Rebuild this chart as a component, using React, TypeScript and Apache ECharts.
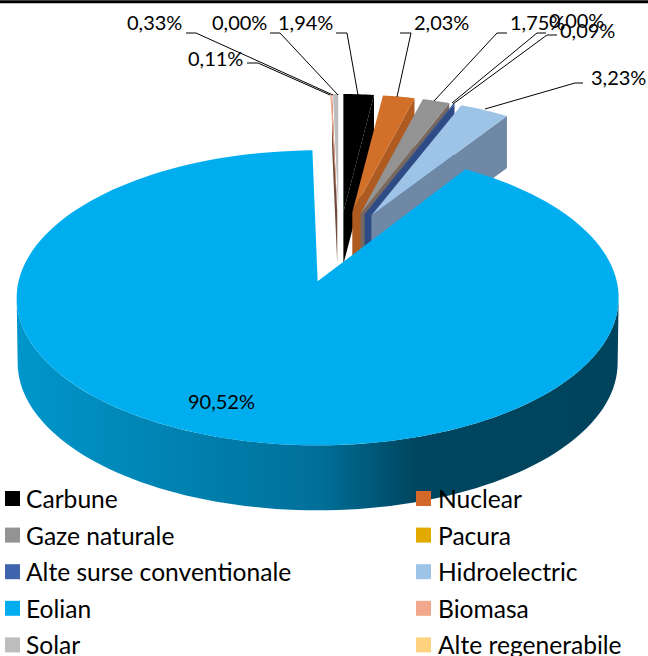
import React, { useEffect, useRef } from "react";
import * as echarts from "echarts";

const categories = ["Carbune", "Nuclear", "Gaze naturale", "Pacura", "Alte surse conventionale", "Hidroelectric", "Eolian", "Biomasa", "Solar", "Alte regenerabile"];
const values = [1.94, 2.03, 1.75, 0.0, 0.09, 3.23, 90.52, 0.11, 0.33, 0.0];
const legendColors = ["#000000", "#D2692A", "#939393", "#E2A900", "#3F63AC", "#9DC3E6", "#00AEEF", "#F1A88C", "#BDBDBD", "#FFD280"];
const faceColors = ["#000000", "#D2702A", "#939393", "#E2A900", "#2F5597", "#9DC3E6", "#00AEEF", "#F1A88C", "#BDBDBD", "#FFD280"];
const wallColors = ["#000000", "#AF5A20", "#77695F", "#A87E00", "#2E4B85", "#6F88A6", "#0090C4", "#6E4A3A", "#8A8A8A", "#BFA060"];
const leftLegend = ["Carbune", "Gaze naturale", "Alte surse conventionale", "Eolian", "Solar"];
const rightLegend = ["Nuclear", "Pacura", "Hidroelectric", "Biomasa", "Alte regenerabile"];
const drawOrder = [7, 9, 8, 0, 1, 2, 3, 4, 5, 6];
const labelText = (v: number) => v.toFixed(2).replace(".", ",") + "%";

// label placement: [category index, text x, text y, leader points]
const labelLayout: [number, number, number, number[][] | null][] = [
  [8, 127, 22, [[186, 33], [196, 33], [333, 95]]],
  [7, 188, 58, [[247, 63], [258, 63], [330, 95]]],
  [9, 212, 22, [[270, 33], [280, 33], [338, 95]]],
  [0, 278, 22, [[336, 33], [347, 33], [358, 95]]],
  [1, 414, 22, [[400, 33], [411, 33], [397, 97]]],
  [2, 510, 22, [[507, 33], [497, 33], [434, 101]]],
  [3, 549, 20, [[546, 33], [537, 33], [452, 103]]],
  [4, 560, 30, [[557, 35], [547, 35], [453, 104]]],
  [5, 591, 77, [[583, 83], [575, 83], [485, 109]]],
  [6, 188, 401, null],
];

const FONT = "Lato";
const rad = (d: number) => (d * Math.PI) / 180;
const PIE = { cx: 339, cy: 245, dx: 72, dy: 33, rx: 252, ry: 118, depth: 52 };
const MAIN = { dx: 80, dy: 37.7, ecy: 16.5, rx: 301, ry: 147.5, depth: 65, phiStart: 29.4, phiEnd: 359 };

function arc(cx: number, cy: number, rx: number, ry: number, a: number, b: number, n = 8) {
  const pts: number[][] = [];
  const steps = Math.max(1, Math.ceil((Math.abs(b - a) / 360) * 180), n);
  for (let i = 0; i <= steps; i++) {
    const t = rad(a + ((b - a) * i) / steps);
    pts.push([cx + rx * Math.sin(t), cy - ry * Math.cos(t)]);
  }
  return pts;
}

function renderSlice(params: any, api: any) {
  const v = api.value(0);
  const s = api.value(1);
  const e = api.value(2);
  const cat = drawOrder[params.seriesIndex];
  if (v <= 0) return { type: "group", children: [] };
  const mid = (s + e) / 2;
  if (cat === 6) {
    const ax = PIE.cx + MAIN.dx * Math.sin(rad(mid));
    const ay = PIE.cy - MAIN.dy * Math.cos(rad(mid));
    const ecy = ay + MAIN.ecy;
    const upper = arc(ax, ecy, MAIN.rx, MAIN.ry, 90, 270);
    const lower = arc(ax, ecy + MAIN.depth, MAIN.rx - 1, MAIN.ry, 270, 90);
    const face = [[ax, ay], ...arc(ax, ecy, MAIN.rx, MAIN.ry, MAIN.phiStart, MAIN.phiEnd)];
    return {
      type: "group",
      children: [
        {
          type: "polygon",
          shape: { points: [...upper, ...lower] },
          style: {
            fill: new echarts.graphic.LinearGradient(0, 0, 1, 0, [
              { offset: 0, color: "#0096CB" },
              { offset: 0.5, color: "#00709A" },
              { offset: 0.66, color: "#004660" },
              { offset: 1, color: "#00435C" },
            ]),
          },
        },
        { type: "polygon", shape: { points: face }, style: { fill: faceColors[cat] } },
      ],
    };
  }
  const ax = PIE.cx + PIE.dx * Math.sin(rad(mid));
  const ay = PIE.cy - PIE.dy * Math.cos(rad(mid));
  const end = arc(ax, ay, PIE.rx, PIE.ry, e, e, 1)[0];
  const wall = [[ax, ay], end, [end[0], end[1] + PIE.depth], [ax, ay + PIE.depth]];
  const face = [[ax, ay], ...arc(ax, ay, PIE.rx, PIE.ry, s, e)];
  return {
    type: "group",
    children: [
      { type: "polygon", shape: { points: wall }, style: { fill: wallColors[cat] } },
      { type: "polygon", shape: { points: face }, style: { fill: faceColors[cat] } },
    ],
  };
}

export default function App() {
  const ref = useRef<HTMLDivElement>(null);
  useEffect(() => {
    const chart = echarts.init(ref.current!, undefined, { renderer: "svg" });
    const total = values.reduce((a, b) => a + b, 0);
    let c = 0;
    const ranges = values.map((v) => {
      const s = (c / total) * 360;
      c += v;
      return [s, (c / total) * 360];
    });
    // slices after Eolian sit just left of the top
    ranges.forEach((r, i) => {
      if (i > 6) {
        r[0] -= 360;
        r[1] -= 360;
      }
    });
    const series = drawOrder.map((i) => ({
      type: "custom",
      name: categories[i],
      coordinateSystem: "none",
      silent: true,
      itemStyle: { color: legendColors[i] },
      data: [[values[i], ranges[i][0], ranges[i][1]]],
      renderItem: renderSlice,
    }));
    const legendBase = {
      orient: "vertical",
      icon: "rect",
      itemWidth: 15,
      itemHeight: 15,
      itemGap: 8.6,
      padding: 0,
      height: 220,
      selectedMode: false,
      z: 10,
    };
    const legendText = { fontFamily: FONT, fontSize: 24.6, color: "#000", lineHeight: 28 };
    const graphics: any[] = [
      { type: "line", shape: { x1: 0, y1: 1.75, x2: 648, y2: 1.75 }, style: { stroke: "#000", lineWidth: 3 }, z: 5 },
    ];
    labelLayout.forEach(([i, x, y, leader]) => {
      if (leader) {
        graphics.push({
          type: "polyline",
          shape: { points: leader },
          style: { stroke: "#000", lineWidth: 1, fill: "none" },
          z: 6,
        });
      }
      graphics.push({
        type: "text",
        z: 7,
        style: { text: labelText(values[i]), x, y, fontFamily: FONT, fontSize: 20, fill: "#000", textVerticalAlign: "middle" },
      });
    });
    chart.setOption({
      animation: false,
      backgroundColor: "#fff",
      legend: [
        { ...legendBase, left: 5, top: 484.5, data: leftLegend, textStyle: { ...legendText, padding: [0, 0, 0, 1] } },
        { ...legendBase, left: 416, top: 484.5, data: rightLegend, textStyle: { ...legendText, padding: [0, 0, 0, 2] } },
      ],
      series,
      graphic: graphics,
    });
    return () => chart.dispose();
  }, []);
  return <div ref={ref} style={{ position: "absolute", left: 0, top: 0, width: 648, height: 656, overflow: "hidden" }} />;
}
